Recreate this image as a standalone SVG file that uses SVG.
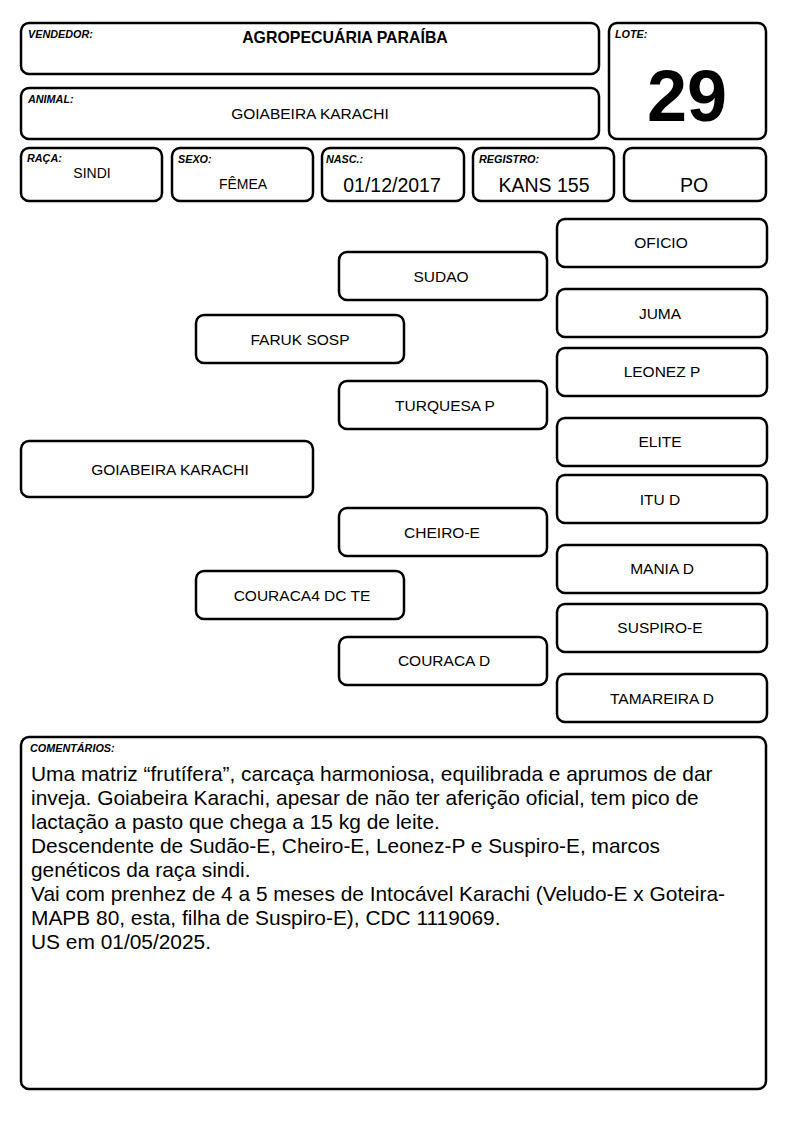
<svg xmlns="http://www.w3.org/2000/svg" width="794" height="1123" viewBox="0 0 794 1123">
<style>
rect.b{fill:#fff;stroke:#000;stroke-width:2.5}
text{font-family:"Liberation Sans",Arial,sans-serif;fill:#000}
.lab{font-size:10.8px;font-weight:bold;font-style:italic}
.n{font-size:15.5px;text-anchor:middle}
.v{font-size:19.5px;text-anchor:middle}
.c{font-size:20.9px}
</style>
<rect width="794" height="1123" fill="#fff"/>
<g id="vendedor"><rect class="b" x="21" y="23" width="578" height="51" rx="8"/><text class="lab" x="28" y="38">VENDEDOR:</text><text x="345" y="43" font-size="15.9" font-weight="bold" text-anchor="middle">AGROPECUÁRIA PARAÍBA</text></g>
<g id="animal"><rect class="b" x="21" y="88" width="578" height="51" rx="8"/><text class="lab" x="28" y="103">ANIMAL:</text><text x="310" y="119" font-size="15.5" text-anchor="middle">GOIABEIRA KARACHI</text></g>
<g id="lote"><rect class="b" x="609" y="23" width="157" height="116" rx="8"/><text class="lab" x="615" y="38">LOTE:</text><text x="687" y="121" font-size="72" font-weight="bold" text-anchor="middle">29</text></g>
<g id="raca"><rect class="b" x="21" y="148" width="141" height="53" rx="8"/><text class="lab" x="27" y="162">RAÇA:</text><text x="92" y="178" font-size="14" text-anchor="middle">SINDI</text></g>
<g id="sexo"><rect class="b" x="172" y="148" width="141" height="53" rx="8"/><text class="lab" x="178" y="163">SEXO:</text><text x="243" y="189" font-size="14" text-anchor="middle">FÊMEA</text></g>
<g id="nasc"><rect class="b" x="322" y="148" width="142" height="53" rx="8"/><text class="lab" x="326" y="163">NASC.:</text><text class="v" x="392" y="192">01/12/2017</text></g>
<g id="registro"><rect class="b" x="473" y="148" width="141" height="53" rx="8"/><text class="lab" x="479" y="163">REGISTRO:</text><text class="v" x="544" y="192">KANS 155</text></g>
<g id="po"><rect class="b" x="624" y="148" width="142" height="53" rx="8"/><text class="v" x="694" y="192">PO</text></g>
<g id="connectors"></g>
<g id="goiabeira"><rect class="b" x="21" y="441" width="292" height="56" rx="8"/><text class="n" x="170" y="475">GOIABEIRA KARACHI</text></g>
<g id="faruk"><rect class="b" x="196" y="315" width="208" height="48" rx="8"/><text class="n" x="300" y="345">FARUK SOSP</text></g>
<g id="couraca4"><rect class="b" x="196" y="571" width="208" height="48" rx="8"/><text class="n" x="302" y="601">COURACA4 DC TE</text></g>
<g id="sudao"><rect class="b" x="339" y="252" width="208" height="48" rx="8"/><text class="n" x="441" y="282">SUDAO</text></g>
<g id="turquesa"><rect class="b" x="339" y="381" width="208" height="48" rx="8"/><text class="n" x="445" y="411">TURQUESA P</text></g>
<g id="cheiro"><rect class="b" x="339" y="508" width="208" height="48" rx="8"/><text class="n" x="442" y="538">CHEIRO-E</text></g>
<g id="couracad"><rect class="b" x="339" y="637" width="208" height="48" rx="8"/><text class="n" x="444" y="666">COURACA D</text></g>
<g id="oficio"><rect class="b" x="557" y="219" width="210" height="48" rx="8"/><text class="n" x="661" y="248">OFICIO</text></g>
<g id="juma"><rect class="b" x="557" y="289" width="210" height="48" rx="8"/><text class="n" x="660" y="319">JUMA</text></g>
<g id="leonez"><rect class="b" x="557" y="348" width="210" height="48" rx="8"/><text class="n" x="662" y="377">LEONEZ P</text></g>
<g id="elite"><rect class="b" x="557" y="418" width="210" height="48" rx="8"/><text class="n" x="660" y="447">ELITE</text></g>
<g id="itud"><rect class="b" x="557" y="475" width="210" height="48" rx="8"/><text class="n" x="660" y="505">ITU D</text></g>
<g id="maniad"><rect class="b" x="557" y="545" width="210" height="48" rx="8"/><text class="n" x="662" y="574">MANIA D</text></g>
<g id="suspiro"><rect class="b" x="557" y="604" width="210" height="48" rx="8"/><text class="n" x="660" y="633">SUSPIRO-E</text></g>
<g id="tamareira"><rect class="b" x="557" y="674" width="210" height="48" rx="8"/><text class="n" x="662" y="704">TAMAREIRA D</text></g>
<g id="comentarios"><rect class="b" x="21" y="737" width="745" height="352" rx="8"/><text class="lab" x="30" y="752" font-size="11">COMENTÁRIOS:</text>
<text class="c" x="31" y="781">Uma matriz “frutífera”, carcaça harmoniosa, equilibrada e aprumos de dar</text>
<text class="c" x="31" y="805">inveja. Goiabeira Karachi, apesar de não ter aferição oficial, tem pico de</text>
<text class="c" x="31" y="829">lactação a pasto que chega a 15 kg de leite.</text>
<text class="c" x="31" y="853">Descendente de Sudão-E, Cheiro-E, Leonez-P e Suspiro-E, marcos</text>
<text class="c" x="31" y="877">genéticos da raça sindi.</text>
<text class="c" x="31" y="901">Vai com prenhez de 4 a 5 meses de Intocável Karachi (Veludo-E x Goteira-</text>
<text class="c" x="31" y="925">MAPB 80, esta, filha de Suspiro-E), CDC 1119069.</text>
<text class="c" x="31" y="949">US em 01/05/2025.</text>
</g>
</svg>
